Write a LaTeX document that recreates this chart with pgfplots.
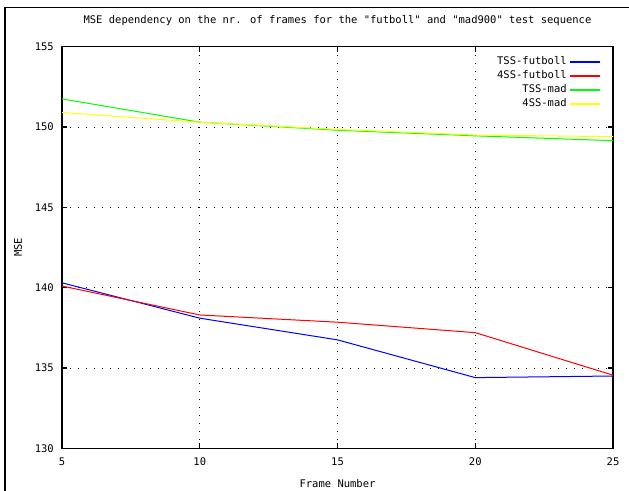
\documentclass[border=0pt]{standalone}
\usepackage{fontspec}
\setmainfont{DejaVu Sans Mono}[Ligatures=TeXOff]
\usepackage{pgfplots}
\pgfplotsset{compat=1.18}
\definecolor{gpblue}{RGB}{0,0,255}
\definecolor{gpred}{RGB}{255,0,0}
\definecolor{gpgreen}{RGB}{0,255,0}
\definecolor{gpyellow}{RGB}{255,255,0}
\newcommand{\gfont}{\fontsize{10.5bp}{12bp}\selectfont}
\begin{document}
\begin{tikzpicture}[x=1bp,y=1bp]
\path[use as bounding box] (0,0) rectangle (629,491);
\draw[line width=1.8bp] (5,0) -- (5,483.5);
\draw[line width=1.8bp] (4.1,483.5) -- (629,483.5);
\begin{axis}[
  at={(62bp,42.7bp)}, anchor=south west,
  scale only axis, width=551bp, height=401.6bp,
  xmin=5, xmax=25, ymin=130, ymax=155,
  xtick={5,10,15,20,25}, ytick={130,135,140,145,150,155},
  tick align=inside, major tick length=5bp,
  tick style={black, line width=1.2bp},
  axis line style={line width=1.3bp},
  grid=major,
  grid style={black, line width=0.8bp, dash pattern=on 0.8bp off 7.2bp},
  /pgf/number format/assume math mode=true,
  tick label style={font=\gfont},
  xticklabel style={anchor=center, yshift=-13.7bp},
  yticklabel style={anchor=east, inner sep=0pt, xshift=-8bp},
  title={MSE dependency on the nr. of frames for the "futboll" and "mad900" test sequence},
  title style={font=\gfont, at={(0.5,1)}, anchor=center, yshift=20.5bp},
  xlabel={Frame Number},
  xlabel style={font=\gfont, at={(axis description cs:0.5,0)}, anchor=center, yshift=-35.7bp},
  ylabel={MSE},
  ylabel style={font=\gfont, at={(axis description cs:-0.0799,0.5)}, anchor=center},
  legend style={draw=none, fill=none, font=\gfont, at={(0.978,0.98)}, anchor=north east,
    inner sep=0pt, row sep=0.5bp},
  legend cell align=right,
  legend plot pos=right,
  legend image code/.code={\draw[#1, line width=2bp] (4bp,0bp) -- (34bp,0bp);},
]
\addplot[gpblue, line width=1bp] coordinates {(5,140.3) (10,138.1) (15,136.75) (20,134.4) (25,134.5)};
\addlegendentry{TSS-futboll}
\addplot[gpred, line width=1bp] coordinates {(5,140.1) (10,138.3) (15,137.85) (20,137.2) (25,134.55)};
\addlegendentry{4SS-futboll}
\addplot[gpgreen, line width=1bp] coordinates {(5,151.75) (10,150.3) (15,149.8) (20,149.45) (25,149.15)};
\addlegendentry{TSS-mad}
\addplot[gpyellow, line width=1bp] coordinates {(5,150.9) (10,150.3) (15,149.85) (20,149.5) (25,149.4)};
\addlegendentry{4SS-mad}
\end{axis}
\end{tikzpicture}
\end{document}
